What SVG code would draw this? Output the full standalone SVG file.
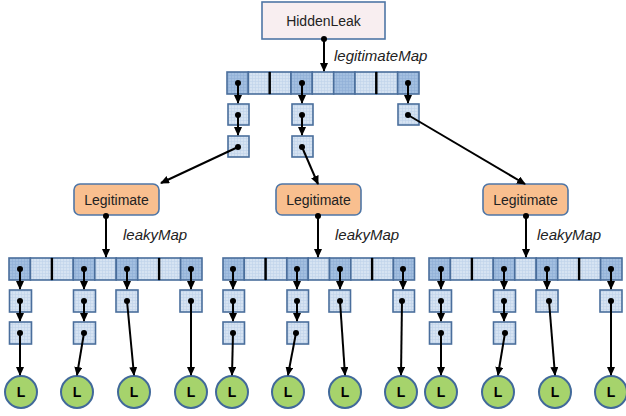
<svg xmlns="http://www.w3.org/2000/svg" width="626" height="416" viewBox="0 0 626 416">
<style>
.cell{stroke:#4a6e9c;stroke-width:1.6}
.lt{fill:url(#pl)}
.dk{fill:url(#pd)}
.div{stroke:#000;stroke-width:2.4}
.ar{stroke:#000;stroke-width:2;fill:none;marker-end:url(#ah)}
.dot{fill:#000}
.leaf{fill:#a6d36c;stroke:#41699a;stroke-width:2}
.lt-txt{font-family:"Liberation Sans",Arial,sans-serif;font-size:14px;font-weight:bold;text-anchor:middle;fill:#000}
.lbl{font-family:"Liberation Sans",Arial,sans-serif;font-size:15px;font-style:italic;fill:#222}
.nm{font-family:"Liberation Sans",Arial,sans-serif;font-size:14px;text-anchor:middle;fill:#222}
.legit{fill:#f9bf8f;stroke:#4f76a6;stroke-width:1.6}
</style>
<defs>
<pattern id="pl" width="3" height="3" patternUnits="userSpaceOnUse">
<rect width="3" height="3" fill="#d6e3f2"/>
<path d="M0 0.5H3M0.5 0V3" stroke="#c0d2e9" stroke-width="0.6"/>
</pattern>
<pattern id="pd" width="3" height="3" patternUnits="userSpaceOnUse">
<rect width="3" height="3" fill="#a3bfe0"/>
<path d="M0 0.5H3M0.5 0V3" stroke="#8eafd6" stroke-width="0.6"/>
</pattern>
<marker id="ah" markerWidth="9" markerHeight="8" refX="8" refY="4" orient="auto" markerUnits="userSpaceOnUse">
<path d="M0,0 L9,4 L0,8 z" fill="#000"/>
</marker>
</defs>

<g id="hiddenleak">
<rect x="262" y="2" width="123" height="37" fill="#f8eef0" stroke="#4f76a6" stroke-width="1.6"/>
<text class="nm" x="323.5" y="26">HiddenLeak</text>
</g>

<g id="legitimateMap">
<rect class="cell dk" x="227" y="72" width="21.3" height="22"/>
<rect class="cell lt" x="248.3" y="72" width="21.4" height="22"/>
<rect class="cell lt" x="269.7" y="72" width="21.3" height="22"/>
<rect class="cell dk" x="291" y="72" width="21.3" height="22"/>
<rect class="cell lt" x="312.3" y="72" width="21.4" height="22"/>
<rect class="cell dk" x="333.7" y="72" width="21.3" height="22"/>
<rect class="cell lt" x="355" y="72" width="21.3" height="22"/>
<rect class="cell lt" x="376.3" y="72" width="21.4" height="22"/>
<rect class="cell dk" x="397.7" y="72" width="21.3" height="22"/>
<line class="div" x1="269.7" y1="72" x2="269.7" y2="94"/>
<line class="div" x1="376.3" y1="72" x2="376.3" y2="94"/>
<text class="lbl" x="334" y="61">legitimateMap</text>
</g>
<g id="top-chains">
<rect class="cell lt" x="228" y="104" width="21" height="21"/>
<rect class="cell lt" x="228" y="136" width="21" height="21"/>
<rect class="cell lt" x="292" y="104" width="21" height="21"/>
<rect class="cell lt" x="292" y="136" width="21" height="21"/>
<rect class="cell lt" x="398" y="104" width="21" height="21"/>
</g>

<g id="legit1">
<rect class="legit" x="74" y="184" width="85" height="31" rx="6"/>
<text class="nm" x="116.5" y="205">Legitimate</text>
</g>
<g id="legit2">
<rect class="legit" x="276" y="184" width="85" height="31" rx="6"/>
<text class="nm" x="318.5" y="205">Legitimate</text>
</g>
<g id="legit3">
<rect class="legit" x="483" y="184" width="85" height="31" rx="6"/>
<text class="nm" x="525.5" y="205">Legitimate</text>
</g>

<g id="leakyMap1">
<rect class="cell dk" x="9" y="258" width="21.4" height="22"/>
<rect class="cell lt" x="30.4" y="258" width="21.5" height="22"/>
<rect class="cell lt" x="51.9" y="258" width="21.4" height="22"/>
<rect class="cell dk" x="73.3" y="258" width="21.5" height="22"/>
<rect class="cell lt" x="94.8" y="258" width="21.4" height="22"/>
<rect class="cell dk" x="116.2" y="258" width="21.5" height="22"/>
<rect class="cell lt" x="137.7" y="258" width="21.4" height="22"/>
<rect class="cell lt" x="159.1" y="258" width="21.5" height="22"/>
<rect class="cell dk" x="180.6" y="258" width="21.4" height="22"/>
<line class="div" x1="51.9" y1="258" x2="51.9" y2="280"/>
<line class="div" x1="159.1" y1="258" x2="159.1" y2="280"/>
<text class="lbl" x="123" y="240">leakyMap</text>
<rect class="cell lt" x="9.5" y="290" width="22" height="22"/>
<rect class="cell lt" x="9.5" y="322" width="22" height="22"/>
<rect class="cell lt" x="73.5" y="290" width="22" height="22"/>
<rect class="cell lt" x="73.5" y="322" width="22" height="22"/>
<rect class="cell lt" x="116" y="290" width="22" height="22"/>
<rect class="cell lt" x="180" y="290" width="22" height="22"/>
</g>
<g id="leakyMap2">
<rect class="cell dk" x="223" y="258" width="21.3" height="22"/>
<rect class="cell lt" x="244.3" y="258" width="21.3" height="22"/>
<rect class="cell lt" x="265.6" y="258" width="21.3" height="22"/>
<rect class="cell dk" x="286.9" y="258" width="21.3" height="22"/>
<rect class="cell lt" x="308.2" y="258" width="21.3" height="22"/>
<rect class="cell dk" x="329.5" y="258" width="21.3" height="22"/>
<rect class="cell lt" x="350.8" y="258" width="21.3" height="22"/>
<rect class="cell lt" x="372.1" y="258" width="21.3" height="22"/>
<rect class="cell dk" x="393.4" y="258" width="21.1" height="22"/>
<line class="div" x1="265.6" y1="258" x2="265.6" y2="280"/>
<line class="div" x1="372.1" y1="258" x2="372.1" y2="280"/>
<text class="lbl" x="335" y="240">leakyMap</text>
<rect class="cell lt" x="223" y="290" width="21.5" height="22"/>
<rect class="cell lt" x="223" y="322" width="21.5" height="22"/>
<rect class="cell lt" x="287" y="290" width="21.5" height="22"/>
<rect class="cell lt" x="287" y="322" width="21.5" height="22"/>
<rect class="cell lt" x="329" y="290" width="21.5" height="22"/>
<rect class="cell lt" x="393" y="290" width="21.5" height="22"/>
</g>
<g id="leakyMap3">
<rect class="cell dk" x="429" y="258" width="21.4" height="22"/>
<rect class="cell lt" x="450.4" y="258" width="21.5" height="22"/>
<rect class="cell lt" x="471.9" y="258" width="21.4" height="22"/>
<rect class="cell dk" x="493.3" y="258" width="21.5" height="22"/>
<rect class="cell lt" x="514.8" y="258" width="21.4" height="22"/>
<rect class="cell dk" x="536.2" y="258" width="21.5" height="22"/>
<rect class="cell lt" x="557.7" y="258" width="21.4" height="22"/>
<rect class="cell lt" x="579.1" y="258" width="21.5" height="22"/>
<rect class="cell dk" x="600.6" y="258" width="21.4" height="22"/>
<line class="div" x1="471.9" y1="258" x2="471.9" y2="280"/>
<line class="div" x1="579.1" y1="258" x2="579.1" y2="280"/>
<text class="lbl" x="537" y="240">leakyMap</text>
<rect class="cell lt" x="429.5" y="290" width="22" height="22"/>
<rect class="cell lt" x="429.5" y="322" width="22" height="22"/>
<rect class="cell lt" x="493.5" y="290" width="22" height="22"/>
<rect class="cell lt" x="493.5" y="322" width="22" height="22"/>
<rect class="cell lt" x="536" y="290" width="22" height="22"/>
<rect class="cell lt" x="600" y="290" width="22" height="22"/>
</g>

<g id="leaves">
<g id="leaf1"><circle class="leaf" cx="21" cy="392" r="16"/><text class="lt-txt" x="21" y="397">L</text></g>
<g id="leaf2"><circle class="leaf" cx="77" cy="392" r="16"/><text class="lt-txt" x="77" y="397">L</text></g>
<g id="leaf3"><circle class="leaf" cx="134" cy="392" r="16"/><text class="lt-txt" x="134" y="397">L</text></g>
<g id="leaf4"><circle class="leaf" cx="191" cy="392" r="16"/><text class="lt-txt" x="191" y="397">L</text></g>
<g id="leaf5"><circle class="leaf" cx="232" cy="392" r="16"/><text class="lt-txt" x="232" y="397">L</text></g>
<g id="leaf6"><circle class="leaf" cx="288" cy="392" r="16"/><text class="lt-txt" x="288" y="397">L</text></g>
<g id="leaf7"><circle class="leaf" cx="345" cy="392" r="16"/><text class="lt-txt" x="345" y="397">L</text></g>
<g id="leaf8"><circle class="leaf" cx="401" cy="392" r="16"/><text class="lt-txt" x="401" y="397">L</text></g>
<g id="leaf9"><circle class="leaf" cx="441" cy="392" r="16"/><text class="lt-txt" x="441" y="397">L</text></g>
<g id="leaf10"><circle class="leaf" cx="498" cy="392" r="16"/><text class="lt-txt" x="498" y="397">L</text></g>
<g id="leaf11"><circle class="leaf" cx="555" cy="392" r="16"/><text class="lt-txt" x="555" y="397">L</text></g>
<g id="leaf12"><circle class="leaf" cx="611" cy="392" r="16"/><text class="lt-txt" x="611" y="397">L</text></g>
</g>

<g id="connectors">
<path class="ar" d="M324 39V71"/>
<path class="ar" d="M238 83V103"/>
<path class="ar" d="M238 115V135"/>
<path class="ar" d="M238 147L161 183"/>
<path class="ar" d="M302 83V103"/>
<path class="ar" d="M302 115V135"/>
<path class="ar" d="M302 147L318 184"/>
<path class="ar" d="M408 83V103"/>
<path class="ar" d="M408 115L525 184"/>
<path class="ar" d="M106 216V257"/>
<path class="ar" d="M318 216V257"/>
<path class="ar" d="M526 216V257"/>
<path class="ar" d="M20 269V289"/><path class="ar" d="M20 301V321"/><path class="ar" d="M20 333V375"/>
<path class="ar" d="M84 269V289"/><path class="ar" d="M84 301V321"/><path class="ar" d="M84 333L77 375"/>
<path class="ar" d="M127 269V289"/><path class="ar" d="M127 301L134 375"/>
<path class="ar" d="M191 269V289"/><path class="ar" d="M191 301V375"/>
<path class="ar" d="M233 269V289"/><path class="ar" d="M233 301V321"/><path class="ar" d="M233 333L232 375"/>
<path class="ar" d="M297 269V289"/><path class="ar" d="M297 301V321"/><path class="ar" d="M296 333L288 375"/>
<path class="ar" d="M340 269V289"/><path class="ar" d="M340 301L345 375"/>
<path class="ar" d="M403 269V289"/><path class="ar" d="M402 301L401 375"/>
<path class="ar" d="M441 269V289"/><path class="ar" d="M441 301V321"/><path class="ar" d="M441 333V375"/>
<path class="ar" d="M504 269V289"/><path class="ar" d="M504 301V321"/><path class="ar" d="M505 333L498 375"/>
<path class="ar" d="M547 269V289"/><path class="ar" d="M549 301L555 375"/>
<path class="ar" d="M611 269V289"/><path class="ar" d="M611 301V375"/>
<g class="dot">
<circle cx="324" cy="39" r="3"/>
<circle cx="238" cy="83" r="3"/><circle cx="238" cy="115" r="3"/><circle cx="238" cy="147" r="3"/>
<circle cx="302" cy="83" r="3"/><circle cx="302" cy="115" r="3"/><circle cx="302" cy="147" r="3"/>
<circle cx="408" cy="83" r="3"/><circle cx="408" cy="115" r="3"/>
<circle cx="106" cy="216" r="3"/><circle cx="318" cy="216" r="3"/><circle cx="526" cy="216" r="3"/>
<circle cx="20" cy="269" r="3"/><circle cx="20" cy="301" r="3"/><circle cx="20" cy="333" r="3"/>
<circle cx="84" cy="269" r="3"/><circle cx="84" cy="301" r="3"/><circle cx="84" cy="333" r="3"/>
<circle cx="127" cy="269" r="3"/><circle cx="127" cy="301" r="3"/>
<circle cx="191" cy="269" r="3"/><circle cx="191" cy="301" r="3"/>
<circle cx="233" cy="269" r="3"/><circle cx="233" cy="301" r="3"/><circle cx="233" cy="333" r="3"/>
<circle cx="297" cy="269" r="3"/><circle cx="297" cy="301" r="3"/><circle cx="296" cy="333" r="3"/>
<circle cx="340" cy="269" r="3"/><circle cx="340" cy="301" r="3"/>
<circle cx="403" cy="269" r="3"/><circle cx="402" cy="301" r="3"/>
<circle cx="441" cy="269" r="3"/><circle cx="441" cy="301" r="3"/><circle cx="441" cy="333" r="3"/>
<circle cx="504" cy="269" r="3"/><circle cx="504" cy="301" r="3"/><circle cx="505" cy="333" r="3"/>
<circle cx="547" cy="269" r="3"/><circle cx="549" cy="301" r="3"/>
<circle cx="611" cy="269" r="3"/><circle cx="611" cy="301" r="3"/>
</g>
</g>
</svg>
